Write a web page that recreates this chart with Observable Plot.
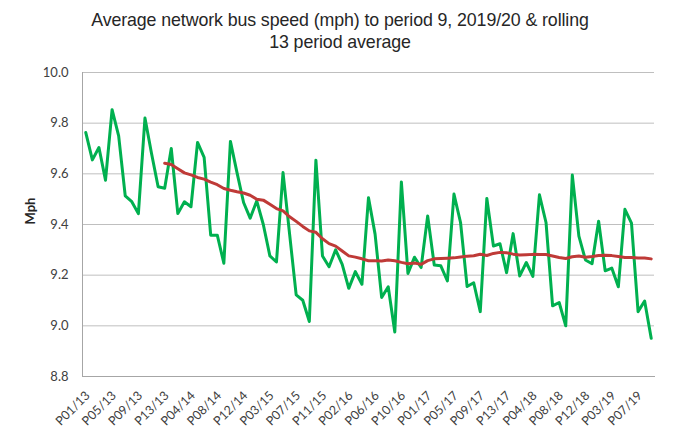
<!DOCTYPE html>
<html><head><meta charset="utf-8">
<script src="https://cdn.jsdelivr.net/npm/d3@7"></script>
<script src="https://cdn.jsdelivr.net/npm/@observablehq/plot@0.6"></script>
<style>
body{margin:0;background:#fff;width:680px;height:440px;overflow:hidden}
#title{height:56px;box-sizing:border-box;padding-top:9px;text-align:center;font-family:"Liberation Sans",Arial,sans-serif;font-size:17.8px;line-height:22px;color:#262626;letter-spacing:-0.1px}
</style></head><body>
<div id="title">Average network bus speed (mph) to period 9, 2019/20 &amp; rolling<br>13 period average</div>
<div id="chart"></div>
<script>
const periods = [
"P01/13","P02/13","P03/13","P04/13","P05/13","P06/13","P07/13","P08/13","P09/13","P10/13","P11/13","P12/13","P13/13",
"P01/14","P02/14","P03/14","P04/14","P05/14","P06/14","P07/14","P08/14","P09/14","P10/14","P11/14","P12/14","P13/14",
"P01/15","P02/15","P03/15","P04/15","P05/15","P06/15","P07/15","P08/15","P09/15","P10/15","P11/15","P12/15","P13/15",
"P01/16","P02/16","P03/16","P04/16","P05/16","P06/16","P07/16","P08/16","P09/16","P10/16","P11/16","P12/16","P13/16",
"P01/17","P02/17","P03/17","P04/17","P05/17","P06/17","P07/17","P08/17","P09/17","P10/17","P11/17","P12/17","P13/17",
"P01/18","P02/18","P03/18","P04/18","P05/18","P06/18","P07/18","P08/18","P09/18","P10/18","P11/18","P12/18","P13/18",
"P01/19","P02/19","P03/19","P04/19","P05/19","P06/19","P07/19","P08/19","P09/19"
];
const speed = [
9.763,9.655,9.704,9.575,9.853,9.750,9.513,9.490,9.443,9.820,9.680,9.549,9.543,
9.700,9.443,9.490,9.470,9.724,9.665,9.358,9.358,9.247,9.728,9.605,9.487,9.425,
9.493,9.400,9.276,9.252,9.605,9.362,9.122,9.101,9.017,9.654,9.276,9.233,9.300,
9.243,9.148,9.214,9.164,9.506,9.362,9.112,9.154,8.976,9.568,9.207,9.271,9.230,
9.434,9.240,9.237,9.177,9.520,9.408,9.155,9.170,9.056,9.503,9.315,9.324,9.210,
9.364,9.197,9.250,9.195,9.517,9.408,9.079,9.092,9.000,9.595,9.354,9.260,9.245,
9.413,9.217,9.228,9.154,9.460,9.405,9.056,9.098,8.951
];
const xTickLabels = ["P01/13","P05/13","P09/13","P13/13","P04/14","P08/14","P12/14","P03/15","P07/15","P11/15","P02/16","P06/16","P10/16","P01/17","P05/17","P09/17","P13/17","P04/18","P08/18","P12/18","P03/19","P07/19"];
const yTicks = [8.8, 9.0, 9.2, 9.4, 9.6, 9.8, 10.0];
const rollingPeriods = 13;

const data = periods.map((p, i) => ({period: p, speed: speed[i]}));

const chart = Plot.plot({
  width: 680, height: 384,
  marginTop: 16, marginBottom: 64, marginLeft: 82, marginRight: 26,
  style: {fontFamily: "Lato, 'Open Sans', sans-serif", background: "#fff", color: "#404040"},
  x: {type: "point", domain: periods, padding: 0.5, align: 0.5},
  y: {domain: [8.8, 10.0]},
  marks: [
    Plot.gridY(yTicks, {stroke: "#bfbfbf", strokeOpacity: 1, strokeWidth: 1}),
    Plot.frame({anchor: "left", stroke: "#a6a6a6"}),
    Plot.frame({anchor: "bottom", stroke: "#a6a6a6"}),
    Plot.axisY(yTicks, {tickSize: 0, tickPadding: 14, tickFormat: d => d.toFixed(1), fontSize: 13, fill: "#404040", label: null}),
    Plot.axisX(xTickLabels, {tickSize: 0, tickPadding: 17, dx: 2, tickRotate: -45, fontSize: 12.5, fill: "#404040", label: null}),
    Plot.lineY(data, {x: "period", y: "speed", stroke: "#00b04f", strokeWidth: 3, strokeLinejoin: "round"}),
    Plot.lineY(data, Plot.windowY({k: rollingPeriods, anchor: "end", strict: true}, {x: "period", y: "speed", stroke: "#bf3a37", strokeWidth: 3, strokeLinejoin: "round"})),
    Plot.text(["Mph"], {frameAnchor: "left", dx: -52, rotate: -90, fontWeight: "bold", fontSize: 13, fill: "#262626"})
  ]
});
document.getElementById("chart").appendChild(chart);
</script>
</body></html>
